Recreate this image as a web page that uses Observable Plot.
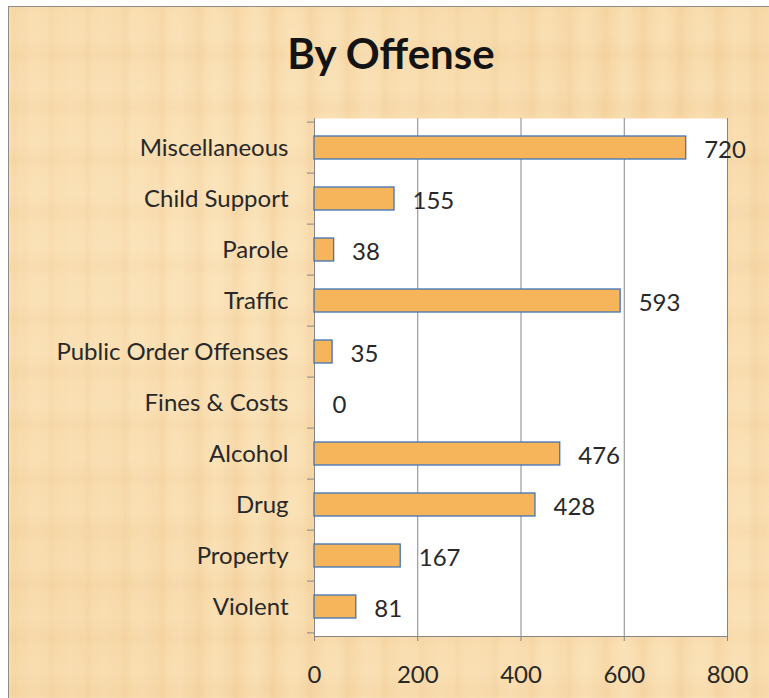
<!DOCTYPE html>
<html>
<head>
<meta charset="utf-8">
<script src="https://cdn.jsdelivr.net/npm/d3@7"></script>
<script src="https://cdn.jsdelivr.net/npm/@observablehq/plot@0.6"></script>
<style>
  html, body { margin: 0; padding: 0; background: #ffffff; }
  #page { position: relative; width: 769px; height: 698px; overflow: hidden; font-family: Lato, "Open Sans", sans-serif; }
  #paper {
    position: absolute; left: 8px; top: 6px; right: -2px; bottom: -2px;
    border-left: 1px solid #8c8c8c; border-top: 1px solid #8c8c8c;
    background-color: #f8dbab;
    background-image:
      repeating-linear-gradient(90deg, rgba(228,172,110,0) 0px, rgba(228,172,110,0.10) 5px, rgba(228,172,110,0) 11px, rgba(255,238,205,0.18) 23px, rgba(228,172,110,0) 37px),
      repeating-linear-gradient(90deg, rgba(228,172,110,0) 0px, rgba(228,172,110,0.08) 17px, rgba(228,172,110,0) 41px),
      repeating-linear-gradient(0deg, rgba(225,170,110,0) 0px, rgba(225,170,110,0.07) 9px, rgba(255,238,205,0.12) 29px, rgba(225,170,110,0) 53px),
      radial-gradient(ellipse at 25% 35%, rgba(255,236,200,0.45), rgba(255,236,200,0) 55%),
      radial-gradient(ellipse at 80% 75%, rgba(255,236,200,0.35), rgba(255,236,200,0) 50%);
  }
  #title {
    position: absolute; left: 13px; width: 756px; top: 31px; line-height: 44px;
    text-align: center; font-size: 42px; font-weight: 700; color: #141414;
  }
  #chart { position: absolute; left: 0; top: 0; }
  #chart svg { background: transparent; }
</style>
</head>
<body>
<div id="page">
  <div id="paper"></div>
  <div id="title">By Offense</div>
  <div id="chart"></div>
</div>
<script>
const categories = ["Miscellaneous", "Child Support", "Parole", "Traffic", "Public Order Offenses", "Fines & Costs", "Alcohol", "Drug", "Property", "Violent"];
const values = [720, 155, 38, 593, 35, 0, 476, 428, 167, 81];
const xTicks = [0, 200, 400, 600, 800];

const data = categories.map((c, i) => ({category: c, value: values[i]}));

const W = 769, H = 698;
const mTop = 118, mBottom = 62, mLeft = 314, mRight = 42;
const step = (H - mTop - mBottom) / categories.length;
const textColor = "#282828";
const lineColor = "#868686";

const chart = Plot.plot({
  width: W,
  height: H,
  marginTop: mTop,
  marginBottom: mBottom,
  marginLeft: mLeft,
  marginRight: mRight,
  style: {background: "transparent", fontFamily: "Lato, 'Open Sans', sans-serif", fontSize: "24px", color: textColor},
  x: {domain: [0, 800], ticks: xTicks},
  y: {domain: categories, paddingInner: 0.55, paddingOuter: 0.275},
  marks: [
    Plot.frame({fill: "white", stroke: null}),
    Plot.gridX(xTicks.filter(d => d > 0), {stroke: lineColor, strokeOpacity: 1, strokeWidth: 1}),
    Plot.ruleX([0], {stroke: lineColor, strokeWidth: 1}),
    Plot.frame({anchor: "bottom", stroke: lineColor, strokeWidth: 1}),
    Plot.rectX(data.filter(d => d.value > 0), {
      y: "category", x: "value",
      fill: "#f6b55a", stroke: "#3f74b8", strokeWidth: 1.3
    }),
    Plot.text(data, {
      y: "category", x: "value", text: d => String(d.value),
      dx: 18, dy: 2, textAnchor: "start", fill: textColor, fontSize: 24
    }),
    Plot.axisY({tickSize: 0, tickPadding: 26, label: null, fontSize: 24, fill: textColor}),
    Plot.axisY({tickSize: 7, tickFormat: () => "", label: null, stroke: lineColor, dy: -step / 2}),
    Plot.axisY([categories[categories.length - 1]], {tickSize: 7, tickFormat: () => "", label: null, stroke: lineColor, dy: step / 2}),
    Plot.axisX(xTicks, {tickSize: 5, tickPadding: 24, label: null, stroke: lineColor, fill: textColor, fontSize: 24})
  ]
});

document.getElementById("chart").appendChild(chart);
</script>
</body>
</html>
